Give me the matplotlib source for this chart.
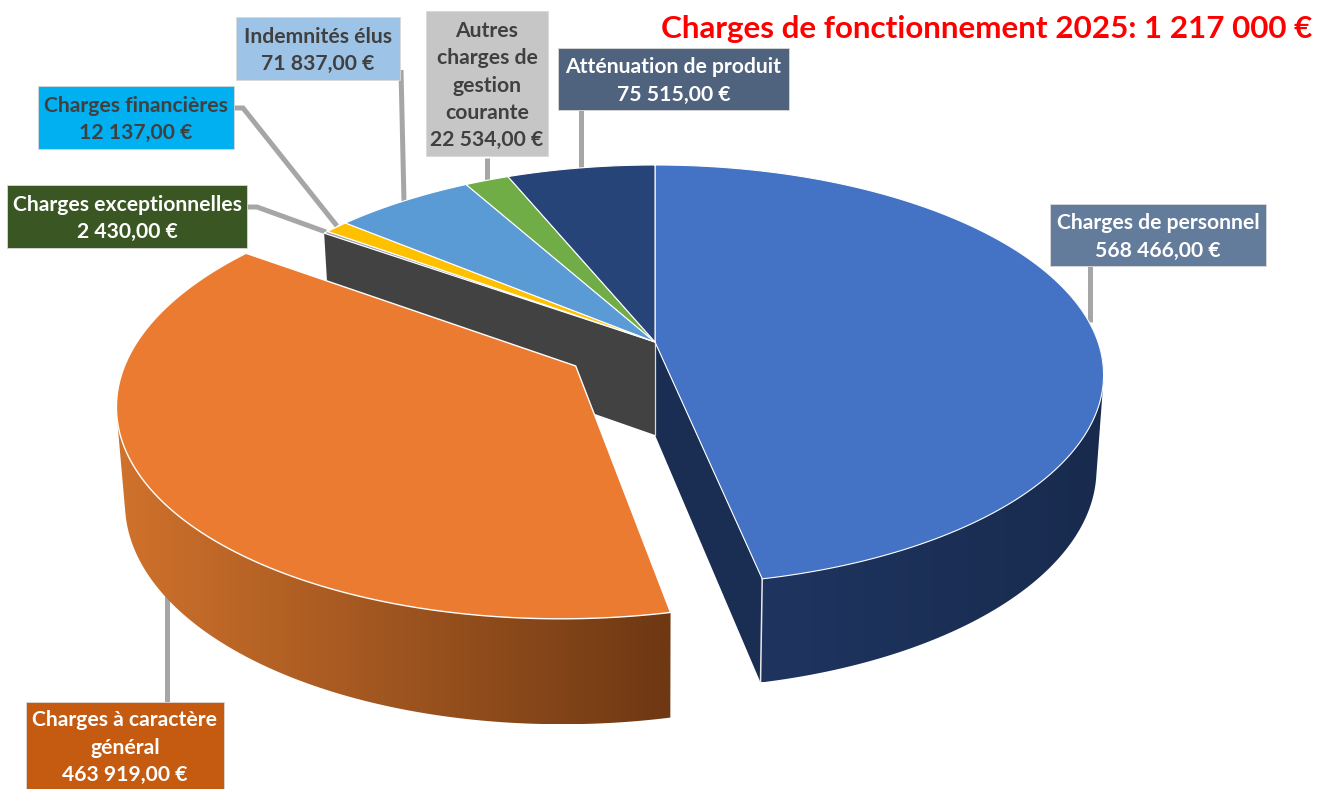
import matplotlib
matplotlib.use('Agg')
from matplotlib import pyplot as plt
from matplotlib.colors import to_rgb
from matplotlib.patches import Polygon
import numpy as np

plt.rcParams['font.family'] = ['Lato', 'DejaVu Sans']

title = 'Charges de fonctionnement 2025: 1 217 000 €'
categories = ['Charges de personnel', 'Charges à caractère\ngénéral', 'Charges exceptionnelles',
              'Charges financières', 'Indemnités élus', 'Autres\ncharges de\ngestion\ncourante',
              'Atténuation de produit']
values = [568466, 463919, 2430, 12137, 71837, 22534, 75515]
slice_colors = ['#4472C4', '#EA7B30', '#A5A5A5', '#FFC000', '#5B9BD5', '#70AD47', '#264478']

# boites des etiquettes : x0, y0, x1, y1 en pixels
boxes = [(1050, 204, 1266, 266), (26, 702, 224, 789), (7, 185, 247, 248), (38, 86, 234, 149),
         (236, 17, 400, 80), (426, 11, 548, 156), (558, 48, 789, 110)]
box_colors = ['#647C9C', '#C55A11', '#3A5723', '#00B0F0', '#9DC3E6', '#C6C6C6', '#50637E']
text_colors = ['white', 'white', 'white', '#404040', '#404040', '#404040', 'white']
leaders = [[(1090, 266), (1090, 322)], [(167, 702), (167, 595)],
           [(247, 207), (257, 207), (326, 232)], [(234, 108), (243, 108), (337, 226)],
           [(401, 70), (404, 202)], [(487, 158), (487, 182)], [(581, 110), (581, 168)]]

# perspective du disque : haut (level 0) et bas (level 1)
cx = 655
top_view = (342, 443, 204.8, 0.157)
bottom_view = (435, 436, 214, 0.157)
explode = {1: 0.21}


def project(u, v, view):
    y0, a, b, k = view
    w = 1 + k * v
    return cx + a * u / w, y0 - b * v / w


def rim(start, end, view, offset=(0, 0), n=200):
    t = np.linspace(start, end, n)
    return project(np.sin(t) + offset[0], np.cos(t) + offset[1], view)


def half_hull(points):
    out = []
    for p in points:
        while len(out) > 1 and ((out[-1][0] - out[-2][0]) * (p[1] - out[-2][1])
                                - (out[-1][1] - out[-2][1]) * (p[0] - out[-2][0])) <= 0:
            out.pop()
        out.append(p)
    return out[:-1]


def hull(pts):
    # enveloppe convexe : le dessus du disque cache la corde interieure
    points = sorted(map(tuple, pts))
    return np.array(half_hull(points) + half_hull(points[::-1]))


def gradient_wall(start, end, offset, c_left, c_right, zorder):
    xt, yt = rim(start, end, top_view, offset)
    xb, yb = rim(start, end, bottom_view, offset)
    pts = hull(np.c_[np.r_[xt, xb], np.r_[yt, yb]])
    ramp = np.linspace(to_rgb(c_left), to_rgb(c_right), 256)[np.newaxis, :, :]
    im = ax.imshow(ramp, extent=(pts[:, 0].min(), pts[:, 0].max(), pts[:, 1].max(), pts[:, 1].min()),
                   aspect='auto', interpolation='bilinear', zorder=zorder)
    im.set_clip_path(Polygon(pts, closed=True, transform=ax.transData))


fig = plt.figure(figsize=(13.33, 7.89), dpi=100)
ax = fig.add_axes([0, 0, 1, 1])

edges = np.concatenate([[0], np.cumsum(values)]) / sum(values) * 2 * np.pi
mid = (edges[1] + edges[2]) / 2
off = (explode[1] * np.sin(mid), explode[1] * np.cos(mid))

for pts in leaders:
    ax.plot(*zip(*pts), color='#A6A6A6', lw=3.6, solid_joinstyle='miter', solid_capstyle='butt', zorder=1)

# paroi sombre derriere la part orange
rx_t, ry_t = project(np.sin(edges[2]), np.cos(edges[2]), top_view)
rx_b, ry_b = project(np.sin(edges[2]), np.cos(edges[2]), bottom_view)
ax.fill([cx, rx_t, rx_b, cx], [top_view[0], ry_t, ry_b, bottom_view[0]], color='#424242', lw=0, zorder=2)

# parois de la part bleue
bx_t, by_t = project(np.sin(edges[1]), np.cos(edges[1]), top_view)
bx_b, by_b = project(np.sin(edges[1]), np.cos(edges[1]), bottom_view)
ax.fill([cx, bx_t, bx_b, cx], [top_view[0], by_t, by_b, bottom_view[0]], color='#1A2D52', lw=0, zorder=2)
ax.plot([cx, cx], [top_view[0], bottom_view[0]], color='#D9D9D9', lw=0.9, zorder=3)
gradient_wall(np.pi / 2 - 0.25, edges[1], (0, 0), '#1F3560', '#182B4E', 3)
ax.plot([bx_t, bx_b], [by_t, by_b], color='#E8E8E8', lw=1.1, zorder=3.5)

# dessus des parts non detachees
for i in [0, 2, 3, 4, 5, 6]:
    x, y = rim(edges[i], edges[i + 1], top_view)
    ax.fill(np.r_[cx, x], np.r_[top_view[0], y], facecolor=slice_colors[i], edgecolor='white', lw=0.8,
            joinstyle='round', zorder=4)

# part orange detachee
gradient_wall(edges[1], edges[2], off, '#D0722C', '#6E3813', 4.5)
ax_o, ay_o = project(off[0], off[1], top_view)
x, y = rim(edges[1], edges[2], top_view, off)
ax.fill(np.r_[ax_o, x], np.r_[ay_o, y], facecolor=slice_colors[1], edgecolor='white', lw=1.0,
        joinstyle='round', zorder=5)

# etiquettes
for box, col, tcol, name, val in zip(boxes, box_colors, text_colors, categories, values):
    x0, y0, x1, y1 = box
    ax.fill([x0, x1, x1, x0], [y0, y0, y1, y1], facecolor=col, edgecolor='#D9D9D9', lw=0.6, zorder=6)
    value_text = f'{val:,.2f}'.replace(',', ' ').replace('.', ',') + ' €'
    ax.text((x0 + x1) / 2, (y0 + y1) / 2 + 2, name + '\n' + value_text, ha='center', va='center',
            color=tcol, fontsize=15.2, fontweight='bold', linespacing=1.45, zorder=7)

ax.text(1312, 28.5, title, ha='right', va='center', color='#FF0000', fontsize=22.6, fontweight='bold', zorder=7)

ax.set_xlim(0, 1333)
ax.set_ylim(789, 0)
ax.axis('off')

fig.savefig('out.png', dpi=100)
